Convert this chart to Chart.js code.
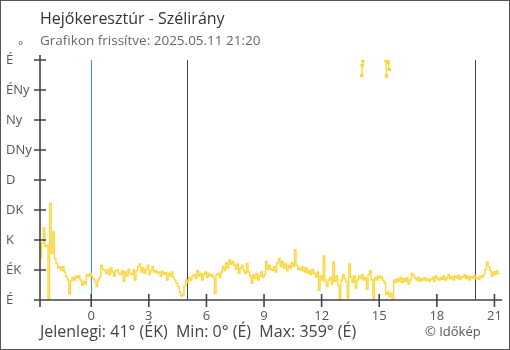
<!DOCTYPE html>
<html>
<head>
<meta charset="utf-8">
<script src="https://cdn.jsdelivr.net/npm/chart.js@4/dist/chart.umd.min.js"></script>
<style>
  body { margin: 0; background: #fff; font-family: "Open Sans", sans-serif; }
  #box { position: relative; width: 510px; height: 350px; }
  #frame { position: absolute; left: 0; top: 0; width: 510px; height: 350px; box-sizing: border-box; border: 1px solid #555; pointer-events: none; }
  canvas { position: absolute; left: 0; top: 0; }
  .txt { position: absolute; white-space: nowrap; }
  #title { left: 40px; top: 7px; font-size: 16px; color: #333; }
  #sub { left: 40px; top: 31px; font-size: 13.5px; color: #666; }
  #deg { left: 18px; top: 37px; font-size: 12px; color: #555; }
  #foot { left: 40px; top: 320px; font-size: 16px; color: #444; }
  #copy { left: 425px; top: 322px; font-size: 13px; color: #555; }
</style>
</head>
<body>
<div id="box">
  <canvas id="wind" width="510" height="350"></canvas>
  <div class="txt" id="title">Hejőkeresztúr - Szélirány</div>
  <div class="txt" id="sub">Grafikon frissítve: 2025.05.11 21:20</div>
  <div class="txt" id="deg">°</div>
  <div class="txt" id="foot">Jelenlegi: 41° (ÉK)&nbsp; Min: 0° (É)&nbsp; Max: 359° (É)</div>
  <div class="txt" id="copy">© Időkép</div>
  <div id="frame"></div>
</div>
<script>
// szélirány (fok), 5 percenként, előző nap 21:20-tól
const startHour = -8 / 3;
const stepHours = 5 / 60;
const windDir = [
  62, 85, 108, 80, 82, 0, 145, 70, 102, 62, 55, 48,
  50, 44, 50, 42, 35, 30, 9, 28, 34, 30, 36, 33,
  36, 30, 22, 28, 24, 38, 36, 40, 35, 32, 28, 20,
  30, 34, 52, 46, 44, 40, 46, 38, 48, 42, 36, 44,
  45, 40, 38, 44, 28, 42, 36, 46, 40, 38, 45, 30,
  44, 50, 54, 42, 48, 40, 46, 52, 38, 44, 50, 42,
  44, 40, 42, 36, 43, 39, 41, 30, 40, 36, 42, 34,
  30, 25, 20, 12, 6, 8, 22, 30, 26, 34, 30, 36,
  38, 32, 44, 36, 40, 30, 38, 42, 34, 40, 36, 38,
  34, 10, 38, 40, 34, 42, 50, 44, 56, 48, 60, 54,
  58, 52, 46, 54, 40, 48, 52, 44, 40, 55, 42, 36,
  25, 38, 32, 40, 30, 36, 42, 34, 38, 58, 46, 52,
  46, 44, 50, 42, 56, 62, 50, 58, 48, 54, 44, 52,
  48, 56, 50, 75, 52, 46, 48, 44, 50, 42, 48, 40,
  44, 38, 46, 40, 34, 42, 15, 36, 30, 66, 28, 20,
  30, 34, 24, 57, 28, 36, 22, 0, 30, 38, 32, 28,
  3, 54, 34, 26, 36, 18, 30, 36, 32, 38, 30, 34,
  16, 38, 44, 30, 0, 34, 30, 36, 32, 35, 30, 26,
  8, 12, 5, 10, 0, 30, 26, 32, 28, 34, 26, 32,
  28, 33, 24, 30, 40, 37, 33, 30, 34, 28, 32, 30,
  33, 29, 32, 28, 31, 34, 28, 36, 32, 30, 34, 31,
  36, 30, 33, 38, 32, 35, 30, 36, 33, 37, 31, 35,
  34, 38, 32, 36, 30, 35, 33, 37, 32, 34, 31, 36,
  34, 38, 46, 57, 50, 44, 36, 42, 38, 44, 40, 41
];
// északi átfordulás (360 körül), külön szakaszok
const wrapTimes = [14.09, 14.11, 14.14, null, 15.35, 15.38, null, 15.44, 15.47, 15.52];
const wrapDir = [337, 352, 359, null, 359, 336, null, 359, 356, 346];

const xTicks = [0, 3, 6, 9, 12, 15, 18, 21];
const yTicks = [0, 45, 90, 135, 180, 225, 270, 315, 360];
const yLabels = ['É', 'ÉK', 'K', 'DK', 'D', 'DNy', 'Ny', 'ÉNy', 'É'];
const midnight = 0;
const sunrise = 5;
const sunset = 20;

const mainPoints = windDir.map((v, i) => ({ x: startHour + i * stepHours, y: v }));
const wrapPoints = wrapTimes.map((t, i) => ({ x: t === null ? NaN : t, y: wrapDir[i] }));

const lineColor = '#fdd435';
const axisColor = '#444';

const decor = {
  id: 'decor',
  beforeDatasetsDraw(chart) {
    const { ctx, chartArea: a, scales: { x } } = chart;
    ctx.save();
    ctx.lineWidth = 1;
    ctx.strokeStyle = '#3a93d8';
    let px = Math.round(x.getPixelForValue(midnight)) + 0.5;
    ctx.beginPath(); ctx.moveTo(px, a.top); ctx.lineTo(px, a.bottom + 6); ctx.stroke();
    ctx.strokeStyle = axisColor;
    [sunrise, sunset].forEach(h => {
      px = Math.round(x.getPixelForValue(h)) + 0.5;
      ctx.beginPath(); ctx.moveTo(px, a.top); ctx.lineTo(px, a.bottom); ctx.stroke();
    });
    ctx.restore();
  },
  afterDatasetsDraw(chart) {
    const { ctx, chartArea: a, scales: { x, y } } = chart;
    ctx.save();
    ctx.strokeStyle = axisColor;
    ctx.lineWidth = 1.6;
    ctx.beginPath();
    ctx.moveTo(a.left, a.top - 5); ctx.lineTo(a.left, a.bottom + 7);
    ctx.moveTo(a.left - 6, a.bottom); ctx.lineTo(a.right, a.bottom);
    yTicks.forEach(v => {
      const py = y.getPixelForValue(v);
      ctx.moveTo(a.left - 6, py); ctx.lineTo(a.left + 6, py);
    });
    xTicks.forEach(v => {
      const px = x.getPixelForValue(v);
      ctx.moveTo(px, a.bottom - 6); ctx.lineTo(px, a.bottom + 7);
    });
    ctx.stroke();
    ctx.restore();
  }
};

new Chart(document.getElementById('wind'), {
  type: 'line',
  data: {
    datasets: [{
      data: mainPoints,
      borderColor: lineColor,
      borderWidth: 1.3,
      stepped: true,
      pointRadius: 0,
      fill: false
    }, {
      data: wrapPoints,
      borderColor: lineColor,
      backgroundColor: lineColor,
      borderWidth: 1.3,
      pointStyle: 'rect',
      pointRadius: 2.4,
      pointBorderWidth: 0,
      spanGaps: false,
      fill: false
    }]
  },
  options: {
    responsive: false,
    animation: false,
    devicePixelRatio: 1,
    layout: { padding: { left: 6, top: 60, right: 7, bottom: 0 } },
    plugins: { legend: { display: false }, tooltip: { enabled: false } },
    scales: {
      x: {
        type: 'linear',
        min: startHour,
        max: 21.4,
        afterBuildTicks: s => { s.ticks = xTicks.map(v => ({ value: v })); },
        afterFit: s => { s.height = 50; },
        grid: { display: false, drawTicks: false },
        border: { display: false },
        ticks: { padding: 8, color: '#555', font: { family: 'Open Sans', size: 13 }, maxRotation: 0 }
      },
      y: {
        min: 0,
        max: 360,
        afterBuildTicks: s => { s.ticks = yTicks.map(v => ({ value: v })); },
        afterFit: s => { s.width = 34; },
        grid: { display: false, drawTicks: false },
        border: { display: false },
        ticks: {
          crossAlign: 'far',
          color: '#555',
          font: { family: 'Open Sans', size: 13 },
          callback: v => yLabels[yTicks.indexOf(v)]
        }
      }
    }
  },
  plugins: [decor]
});
</script>
</body>
</html>
